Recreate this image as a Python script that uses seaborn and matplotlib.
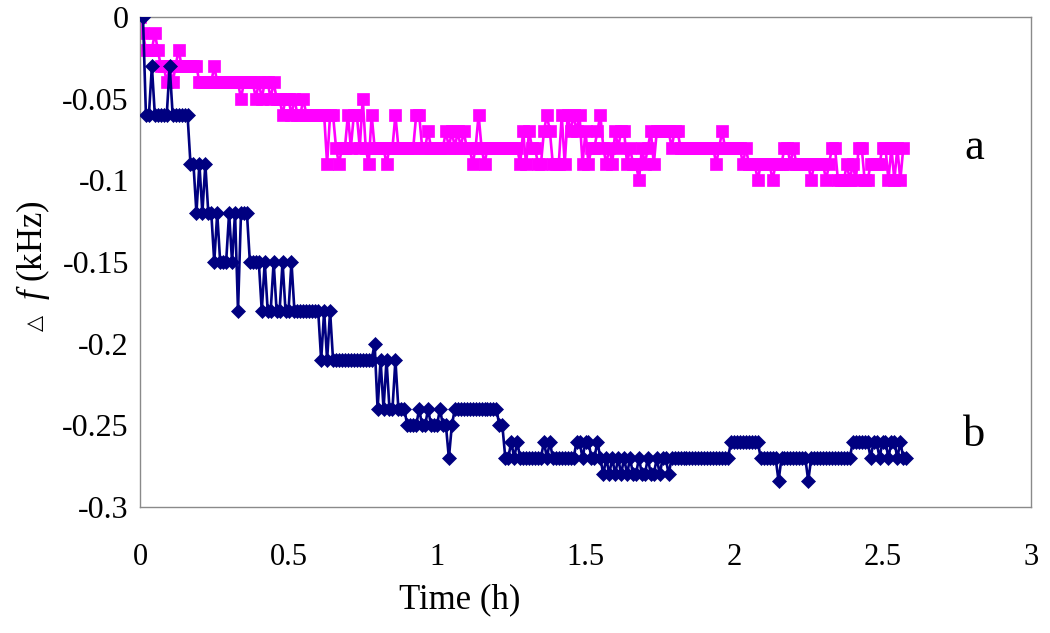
import numpy as np
import pandas as pd
import matplotlib
matplotlib.use("Agg")
import matplotlib.pyplot as plt
import seaborn as sns

# ---- data (kHz) ----
time_a = np.round(np.arange(0.0, 2.575, 0.01), 2)   # sample times, series a
time_b = np.round(np.arange(0.01, 2.585, 0.01), 2)  # sample times, series b

series_a = [
    0, -.01, -.02, -.02, -.02, -.01, -.02, -.03, -.03, -.04,
    -.03, -.04, -.03, -.02, -.03, -.03, -.03, -.03, -.03, -.03,
    -.04, -.04, -.04, -.04, -.04, -.03, -.04, -.04, -.04, -.04,
    -.04, -.04, -.04, -.04, -.05, -.04, -.04, -.04, -.04, -.05,
    -.04, -.05, -.04, -.04, -.05, -.04, -.05, -.05, -.06, -.05,
    -.05, -.06, -.05, -.06, -.06, -.05, -.06, -.06, -.06, -.06,
    -.06, -.06, -.06, -.09, -.06, -.06, -.08, -.09, -.08, -.08,
    -.06, -.08, -.06, -.06, -.08, -.05, -.08, -.09, -.06, -.08,
    -.08, -.08, -.08, -.09, -.08, -.08, -.06, -.08, -.08, -.08,
    -.08, -.08, -.08, -.06, -.06, -.08, -.08, -.07, -.08, -.08,
    -.08, -.08, -.08, -.07, -.08, -.07, -.08, -.07, -.08, -.07,
    -.08, -.08, -.09, -.08, -.06, -.08, -.09, -.08, -.08, -.08,
    -.08, -.08, -.08, -.08, -.08, -.08, -.08, -.08, -.09, -.07,
    -.09, -.07, -.08, -.08, -.09, -.09, -.07, -.06, -.07, -.09,
    -.09, -.09, -.06, -.09, -.06, -.07, -.06, -.07, -.06, -.09,
    -.07, -.09, -.08, -.08, -.07, -.06, -.08, -.09, -.08, -.09,
    -.07, -.08, -.07, -.07, -.09, -.08, -.09, -.09, -.10, -.08,
    -.09, -.08, -.07, -.09, -.07, -.07, -.07, -.07, -.07, -.08,
    -.07, -.07, -.08, -.08, -.08, -.08, -.08, -.08, -.08, -.08,
    -.08, -.08, -.08, -.08, -.09, -.08, -.07, -.08, -.08, -.08,
    -.08, -.08, -.08, -.09, -.08, -.09, -.09, -.09, -.10, -.09,
    -.09, -.09, -.09, -.10, -.09, -.09, -.09, -.08, -.08, -.09,
    -.08, -.09, -.09, -.09, -.09, -.09, -.10, -.09, -.09, -.09,
    -.09, -.10, -.09, -.08, -.08, -.10, -.10, -.10, -.09, -.10,
    -.09, -.10, -.08, -.08, -.10, -.10, -.09, -.09, -.09, -.09,
    -.08, -.08, -.10, -.08, -.10, -.08, -.10, -.08,
]

series_b = [
    0, -.06, -.06, -.03, -.06, -.06, -.06, -.06, -.06, -.03,
    -.06, -.06, -.06, -.06, -.06, -.06, -.09, -.09, -.12, -.09,
    -.12, -.09, -.12, -.12, -.15, -.12, -.15, -.15, -.15, -.12,
    -.15, -.12, -.18, -.12, -.12, -.12, -.15, -.15, -.15, -.15,
    -.18, -.15, -.18, -.18, -.15, -.18, -.18, -.15, -.18, -.18,
    -.15, -.18, -.18, -.18, -.18, -.18, -.18, -.18, -.18, -.18,
    -.21, -.18, -.21, -.18, -.21, -.21, -.21, -.21, -.21, -.21,
    -.21, -.21, -.21, -.21, -.21, -.21, -.21, -.21, -.20, -.24,
    -.21, -.24, -.21, -.24, -.24, -.21, -.24, -.24, -.24, -.25,
    -.25, -.25, -.25, -.24, -.25, -.25, -.24, -.25, -.25, -.25,
    -.24, -.25, -.25, -.27, -.25, -.24, -.24, -.24, -.24, -.24,
    -.24, -.24, -.24, -.24, -.24, -.24, -.24, -.24, -.24, -.24,
    -.25, -.25, -.27, -.27, -.26, -.27, -.26, -.27, -.27, -.27,
    -.27, -.27, -.27, -.27, -.27, -.26, -.27, -.26, -.27, -.27,
    -.27, -.27, -.27, -.27, -.27, -.27, -.26, -.26, -.27, -.26,
    -.26, -.27, -.27, -.26, -.27, -.28, -.27, -.28, -.27, -.28,
    -.27, -.28, -.27, -.28, -.27, -.28, -.28, -.27, -.28, -.28,
    -.27, -.28, -.28, -.27, -.28, -.27, -.27, -.28, -.27, -.27,
    -.27, -.27, -.27, -.27, -.27, -.27, -.27, -.27, -.27, -.27,
    -.27, -.27, -.27, -.27, -.27, -.27, -.27, -.27, -.26, -.26,
    -.26, -.26, -.26, -.26, -.26, -.26, -.26, -.26, -.27, -.27,
    -.27, -.27, -.27, -.27, -.284, -.27, -.27, -.27, -.27, -.27,
    -.27, -.27, -.27, -.27, -.284, -.27, -.27, -.27, -.27, -.27,
    -.27, -.27, -.27, -.27, -.27, -.27, -.27, -.27, -.27, -.26,
    -.26, -.26, -.26, -.26, -.26, -.27, -.26, -.26, -.27, -.26,
    -.26, -.27, -.26, -.26, -.27, -.26, -.27, -.27,
]

x_ticks = [0, 0.5, 1, 1.5, 2, 2.5, 3]
x_tick_labels = ["0", "0.5", "1", "1.5", "2", "2.5", "3"]
y_ticks = [0, -0.05, -0.1, -0.15, -0.2, -0.25, -0.3]
y_tick_labels = ["0", "-0.05", "-0.1", "-0.15", "-0.2", "-0.25", "-0.3"]
series_labels = ["a", "b"]
label_pos_a = (2.81, -0.08)
label_pos_b = (2.81, -0.256)

df_a = pd.DataFrame({"t": time_a, "df": series_a})
df_b = pd.DataFrame({"t": time_b, "df": series_b})

# ---- style ----
sns.set_style("white")
plt.rcParams["font.family"] = ["Liberation Serif", "DejaVu Serif", "DejaVu Sans"]
plt.rcParams["mathtext.fontset"] = "custom"
plt.rcParams["mathtext.rm"] = "Liberation Serif"
plt.rcParams["mathtext.it"] = "Liberation Serif:italic"
plt.rcParams["text.color"] = "black"
plt.rcParams["xtick.labelcolor"] = "black"
plt.rcParams["ytick.labelcolor"] = "black"

fig = plt.figure(figsize=(10.5, 6.33), dpi=100)
ax = fig.add_axes([140 / 1050, 1 - 507 / 633, (1031 - 140) / 1050, (507 - 17) / 633])

magenta = "#FF00FF"
navy = "#000080"

sns.lineplot(data=df_a, x="t", y="df", ax=ax, color=magenta, linewidth=1.9,
             marker="s", markersize=8, markeredgecolor=magenta,
             markeredgewidth=0.5, estimator=None, sort=False, zorder=2)
sns.lineplot(data=df_b, x="t", y="df", ax=ax, color=navy, linewidth=1.9,
             marker="D", markersize=7.5, markeredgecolor=navy,
             markeredgewidth=0.5, estimator=None, sort=False, zorder=3)

ax.set_xlim(0, 3)
ax.set_ylim(-0.3, 0)
ax.set_xticks(x_ticks)
ax.set_xticklabels(x_tick_labels)
ax.set_yticks(y_ticks)
ax.set_yticklabels(y_tick_labels)
ax.tick_params(axis="x", direction="in", length=6, width=0.8, color="#808080",
               labelcolor="black", labelsize=22, pad=26)
ax.tick_params(axis="y", direction="in", length=6, width=0.8, color="#808080",
               labelcolor="black", labelsize=23, pad=8)
for s in ax.spines.values():
    s.set_color("#8a8a8a")
    s.set_linewidth(1.0)

ax.set_xlabel("")
ax.set_ylabel("")
fig.text(460 / 1050, 1 - 600 / 633, "Time (h)", ha="center", va="center",
         fontsize=25, color="black")
# y label: small triangle + italic f + (kHz), stacked along the rotated baseline
fig.text(33 / 1050, 1 - 250 / 633, r"$f$ (kHz)", ha="center", va="center",
         rotation=90, fontsize=25, color="black")
fig.text(35 / 1050, 1 - 323 / 633, "\u25b3", ha="center", va="center",
         rotation=90, fontsize=15, color="black",
         family=["DejaVu Sans"])

ax.text(*label_pos_a, series_labels[0], ha="center", va="center", fontsize=32, color="black")
ax.text(*label_pos_b, series_labels[1], ha="center", va="center", fontsize=32, color="black")

fig.savefig("out.png", dpi=100)
